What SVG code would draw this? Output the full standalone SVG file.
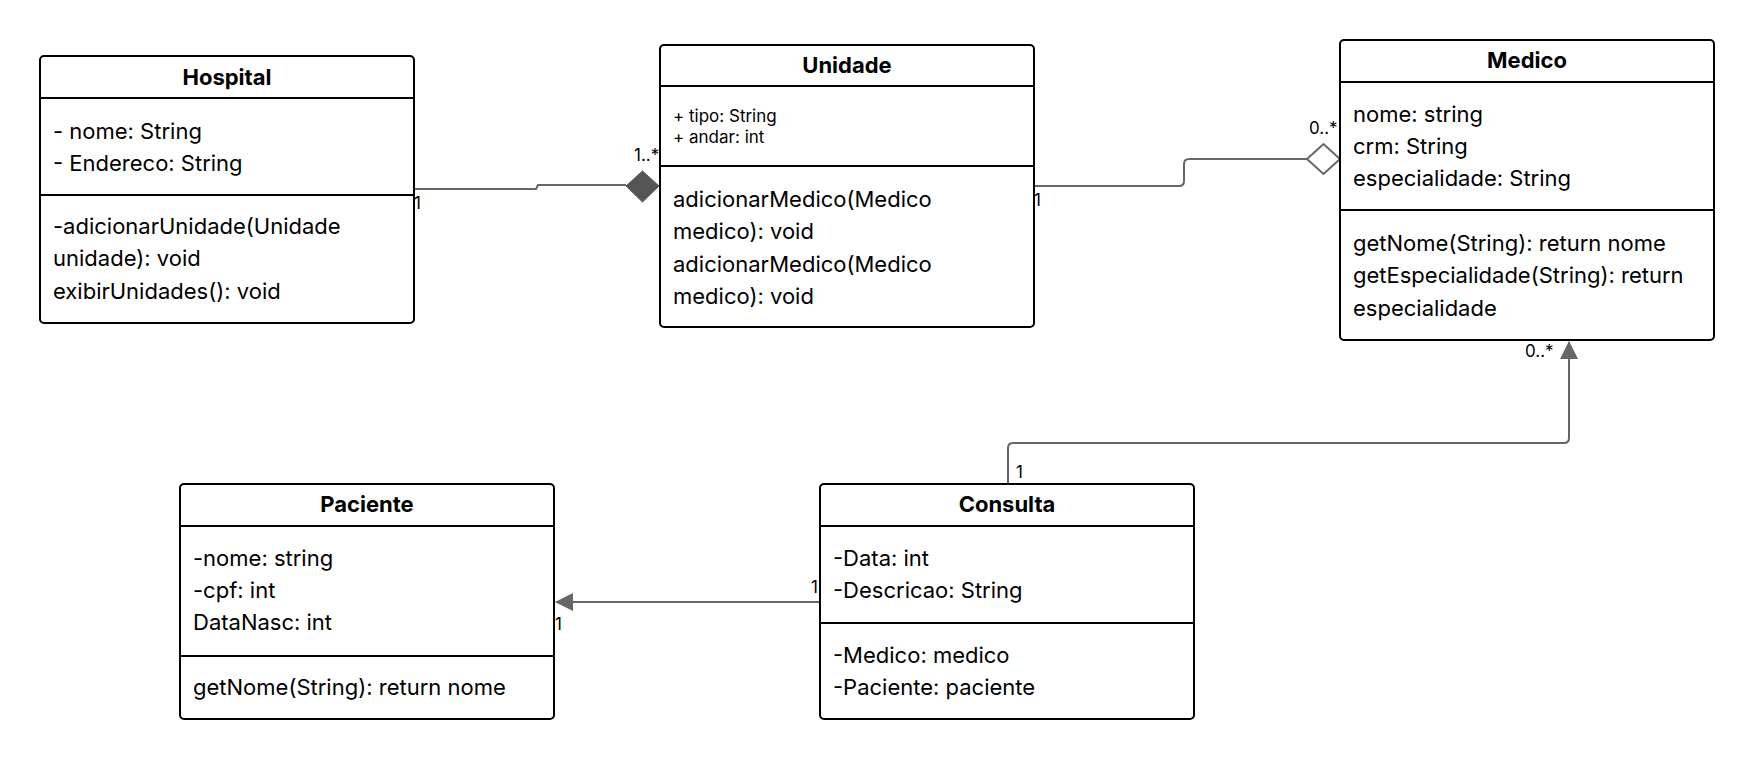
<svg xmlns="http://www.w3.org/2000/svg" width="1754" height="761" viewBox="0 0 1754 761">
<style>
.box{fill:#fff;stroke:#000;stroke-width:2}
.sep{stroke:#000;stroke-width:2}
.t{font-family:Inter,"Noto Sans",sans-serif;font-size:22px;fill:#000}
.ts{font-family:Inter,"Noto Sans",sans-serif;font-size:17px;fill:#000}
.h{font-family:Inter,"Noto Sans",sans-serif;font-size:22px;font-weight:bold;fill:#000;text-anchor:middle}
.c{fill:none;stroke:#666;stroke-width:2}
.lbl{font-family:Inter,"Noto Sans",sans-serif;font-size:17px;fill:#000}
</style>
<defs>
<marker id="tri" viewBox="0 0 18 18" refX="17" refY="9" markerWidth="18" markerHeight="18" markerUnits="userSpaceOnUse" orient="auto">
<path d="M0,0 L18,9 L0,18 Z" fill="#666"/>
</marker>
</defs>
<rect width="1754" height="761" fill="#fff"/>
<g id="connectors">
<path class="c" d="M414,189 H536 L538,185 H626"/>
<path d="M626,186 L642.5,171 L659,186 L642.5,202 Z" fill="#555" stroke="#555" stroke-width="1"/>
<path class="c" d="M1034,186 H1179 Q1184,186 1184,181 V164 Q1184,159 1189,159 H1307"/>
<path d="M1307,159 L1323.5,144 L1340,159 L1323.5,174 Z" fill="#fff" stroke="#666" stroke-width="2"/>
<path class="c" d="M1008,483 V448 Q1008,443 1013,443 H1564 Q1569,443 1569,438 V342" marker-end="url(#tri)"/>
<path class="c" d="M820,602 H556" marker-end="url(#tri)"/>
<text class="lbl" x="414" y="209">1</text>
<text class="lbl" x="634" y="161">1..*</text>
<text class="lbl" x="1034" y="206">1</text>
<text class="lbl" x="1309" y="134">0..*</text>
<text class="lbl" x="1016" y="478">1</text>
<text class="lbl" x="1525" y="357">0..*</text>
<text class="lbl" x="811" y="593">1</text>
<text class="lbl" x="555" y="630">1</text>
</g>
<g id="hospital">
<rect class="box" x="40" y="56" width="374" height="267" rx="4"/>
<line class="sep" x1="40" y1="98" x2="414" y2="98"/>
<line class="sep" x1="40" y1="195" x2="414" y2="195"/>
<text class="h" x="227" y="85">Hospital</text>
<text class="t" x="53" y="139">- nome: String</text>
<text class="t" x="53" y="171">- Endereco: String</text>
<text class="t" x="53" y="234">-adicionarUnidade(Unidade</text>
<text class="t" x="53" y="266">unidade): void</text>
<text class="t" x="53" y="299">exibirUnidades(): void</text>
</g>
<g id="unidade">
<rect class="box" x="660" y="45" width="374" height="282" rx="4"/>
<line class="sep" x1="660" y1="86" x2="1034" y2="86"/>
<line class="sep" x1="660" y1="166" x2="1034" y2="166"/>
<text class="h" x="847" y="73">Unidade</text>
<text class="ts" x="673" y="122">+ tipo: String</text>
<text class="ts" x="673" y="143">+ andar: int</text>
<text class="t" x="673" y="207">adicionarMedico(Medico</text>
<text class="t" x="673" y="239">medico): void</text>
<text class="t" x="673" y="272">adicionarMedico(Medico</text>
<text class="t" x="673" y="304">medico): void</text>
</g>
<g id="medico">
<rect class="box" x="1340" y="40" width="374" height="300" rx="4"/>
<line class="sep" x1="1340" y1="82" x2="1714" y2="82"/>
<line class="sep" x1="1340" y1="210" x2="1714" y2="210"/>
<text class="h" x="1527" y="68">Medico</text>
<text class="t" x="1353" y="122">nome: string</text>
<text class="t" x="1353" y="154">crm: String</text>
<text class="t" x="1353" y="186">especialidade: String</text>
<text class="t" x="1353" y="251">getNome(String): return nome</text>
<text class="t" x="1353" y="283">getEspecialidade(String): return</text>
<text class="t" x="1353" y="316">especialidade</text>
</g>
<g id="paciente">
<rect class="box" x="180" y="484" width="374" height="235" rx="4"/>
<line class="sep" x1="180" y1="526" x2="554" y2="526"/>
<line class="sep" x1="180" y1="656" x2="554" y2="656"/>
<text class="h" x="367" y="512">Paciente</text>
<text class="t" x="193" y="566">-nome: string</text>
<text class="t" x="193" y="598">-cpf: int</text>
<text class="t" x="193" y="630">DataNasc: int</text>
<text class="t" x="193" y="695">getNome(String): return nome</text>
</g>
<g id="consulta">
<rect class="box" x="820" y="484" width="374" height="235" rx="4"/>
<line class="sep" x1="820" y1="526" x2="1194" y2="526"/>
<line class="sep" x1="820" y1="623" x2="1194" y2="623"/>
<text class="h" x="1007" y="512">Consulta</text>
<text class="t" x="833" y="566">-Data: int</text>
<text class="t" x="833" y="598">-Descricao: String</text>
<text class="t" x="833" y="663">-Medico: medico</text>
<text class="t" x="833" y="695">-Paciente: paciente</text>
</g>
</svg>
